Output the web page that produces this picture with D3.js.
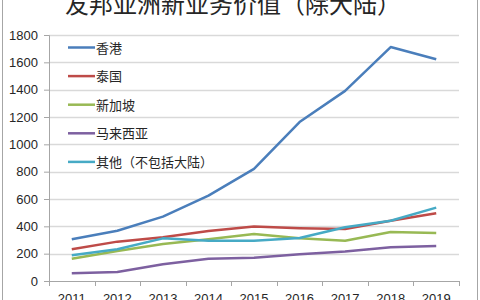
<!DOCTYPE html>
<html>
<head>
<meta charset="utf-8">
<script src="https://cdn.jsdelivr.net/npm/d3@7"></script>
<style>
  body { margin: 0; background: #fff; }
  svg { display: block; font-family: "Liberation Sans", "Noto Sans CJK SC", sans-serif; }
</style>
</head>
<body>
<div id="chart"></div>
<script>
const years = ['2011', '2012', '2013', '2014', '2015', '2016', '2017', '2018', '2019']
const hongKong = [305, 368, 471, 625, 820, 1163, 1391, 1712, 1622]
const thailand = [232, 288, 320, 366, 398, 386, 380, 441, 496]
const singapore = [163, 220, 271, 305, 344, 312, 295, 359, 351]
const malaysia = [56, 66, 122, 163, 171, 195, 215, 247, 256]
const others = [188, 232, 312, 295, 295, 315, 393, 441, 537]
const seriesNames = ['香港', '泰国', '新加坡', '马来西亚', '其他（不包括大陆）']
const colors = ['#4a7ebb', '#be4b48', '#98b954', '#7d60a0', '#46aac5']
const yTicks = [0, 200, 400, 600, 800, 1000, 1200, 1400, 1600, 1800]

const series = [hongKong, thailand, singapore, malaysia, others]

const W = 480, H = 300
const m = {left: 49, right: 21, top: 35, bottom: 19}
const w = W - m.left - m.right
const h = H - m.top - m.bottom

const svg = d3.select('#chart')
              .append('svg')
              .attr('width', W)
              .attr('height', H)

// outer frame
svg.append('rect')
    .attr('x', 2.5).attr('y', -10)
    .attr('width', 475).attr('height', H + 20)
    .attr('fill', 'none')
    .attr('stroke', '#a6a6a6')

// title (cut off at the top like the reference)
svg.append('text')
    .attr('x', 233).attr('y', 13)
    .attr('text-anchor', 'middle')
    .attr('font-family', '"Noto Sans CJK SC", sans-serif')
    .attr('font-size', 24)
    .attr('fill', '#262626')
    .text('友邦亚洲新业务价值（除大陆）')

const g = svg.append('g')
             .attr('transform', `translate(${m.left}, ${m.top})`)

// Scales
const xScale = d3.scaleBand()
                 .domain(years)
                 .range([0, w])

const yScale = d3.scaleLinear()
                 .domain([0, 1800])
                 .range([h, 0])

// gridlines
g.selectAll('.grid')
    .data(yTicks.slice(1)).enter()
    .append('line')
        .attr('x1', 0).attr('x2', w)
        .attr('y1', d => Math.round(yScale(d)) + 0.5)
        .attr('y2', d => Math.round(yScale(d)) + 0.5)
        .attr('stroke', '#d9d9d9')
        .attr('stroke-width', 1.5)

// Axes
const xAxis = d3.axisBottom(xScale).tickSize(0).tickPadding(13)
const yAxis = d3.axisLeft(yScale)
                .tickValues(yTicks)
                .tickFormat(d3.format('d'))
                .tickSize(5)
                .tickPadding(6)

const xg = g.append('g')
    .attr('transform', `translate(0, ${h})`)
    .call(xAxis)
xg.select('.domain').attr('stroke', '#a6a6a6')
xg.selectAll('text').attr('font-size', 13).attr('fill', '#262626')

// x boundary ticks
xg.selectAll('.btick')
    .data(d3.range(years.length + 1)).enter()
    .append('line')
        .attr('x1', i => Math.round(i * xScale.step()) + 0.5)
        .attr('x2', i => Math.round(i * xScale.step()) + 0.5)
        .attr('y1', 0).attr('y2', 5)
        .attr('stroke', '#a6a6a6')

const yg = g.append('g').call(yAxis)
yg.select('.domain').attr('stroke', '#a6a6a6')
yg.selectAll('.tick line').attr('stroke', '#a6a6a6')
yg.selectAll('text').attr('font-size', 13).attr('fill', '#262626')

// Lines
const line = d3.line()
               .x((d, i) => xScale(years[i]) + xScale.bandwidth() / 2)
               .y(d => yScale(d))

g.selectAll('.series')
    .data(series).enter()
    .append('path')
        .attr('d', line)
        .attr('fill', 'none')
        .attr('stroke', (d, i) => colors[i])
        .attr('stroke-width', 2.5)
        .attr('stroke-linejoin', 'round')

// Legend
const legend = svg.append('g')
                  .attr('transform', 'translate(68, 47.5)')

const item = legend.selectAll('g')
    .data(seriesNames).enter()
    .append('g')
        .attr('transform', (d, i) => `translate(0, ${i * 28.6})`)

item.append('line')
    .attr('x1', 0).attr('x2', 27)
    .attr('stroke', (d, i) => colors[i])
    .attr('stroke-width', 2.5)

item.append('text')
    .attr('x', 28).attr('y', 5)
    .attr('font-family', '"Noto Sans CJK SC", sans-serif')
    .attr('font-size', 13)
    .attr('fill', '#262626')
    .text(d => d)
</script>
</body>
</html>
